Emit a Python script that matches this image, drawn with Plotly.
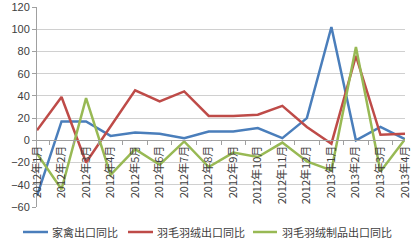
import plotly.graph_objects as go

categories = ["2012年1月", "2012年2月", "2012年3月", "2012年4月", "2012年5月", "2012年6月",
              "2012年7月", "2012年8月", "2012年9月", "2012年10月", "2012年11月", "2012年12月",
              "2013年1月", "2013年2月", "2013年3月", "2013年4月"]
poultry = [-50, 17, 17, 4, 7, 6, 2, 8, 8, 11, 2, 20, 102, 0, 12, 1]
feather_down = [9, 39, -20, 12, 45, 35, 44, 22, 22, 23, 31, 12, -3, 76, 5, 6]
feather_products = [-12, -44, 38, -31, -8, -22, -1, -24, -11, -15, -2, -19, -27, 84, -28, 1]
names = ["家禽出口同比", "羽毛羽绒出口同比", "羽毛羽绒制品出口同比"]
colors = ["#4A7EBB", "#BE4B48", "#98B954"]

W, H = 413, 245
L, R, T, B = 37, 8, 7, 38
pw, ph = W - L - R, H - T - B

fig = go.Figure()
for vals, nm, c in zip([poultry, feather_down, feather_products], names, colors):
    fig.add_trace(go.Scatter(x=categories, y=vals, mode="lines", name=nm,
                             line=dict(color=c, width=2.5), showlegend=False))

# manual legend (pixel layout -> paper coords)
leg_y_px = 232
line_x_px = [(23, 48), (128, 153), (253, 277)]
text_x_px = [50, 155, 280]
py = (H - B - leg_y_px) / ph
for (x0, x1), tx, nm, c in zip(line_x_px, text_x_px, names, colors):
    fig.add_shape(type="line", xref="paper", yref="paper",
                  x0=(x0 - L) / pw, x1=(x1 - L) / pw, y0=py, y1=py,
                  line=dict(color=c, width=2.5))
    fig.add_annotation(xref="paper", yref="paper", x=(tx - L) / pw, y=py,
                       xanchor="left", yanchor="middle", text=nm, showarrow=False,
                       font=dict(size=11, color="#404040"))

font = "Noto Sans CJK SC"
fig.update_layout(
    width=W, height=H,
    margin=dict(l=L, r=R, t=T, b=B, autoexpand=False),
    paper_bgcolor="white", plot_bgcolor="white",
    font=dict(family=font, size=11, color="#404040"),
    showlegend=False,
    xaxis=dict(type="category", anchor="free", position=1/3,
               tickangle=-90, showgrid=False, showline=True, linecolor="#A0A0A0", linewidth=1,
               ticks="outside", tickson="boundaries", ticklen=4, tickcolor="#A0A0A0",
               automargin=False, ticklabeloverflow="allow",
               tickfont=dict(size=11, color="#404040")),
    yaxis=dict(range=[-60, 120], tickvals=[-60, -40, -20, 0, 20, 40, 60, 80, 100, 120],
               showgrid=True, gridcolor="#D0D0D0", gridwidth=1,
               zeroline=False, showline=True, linecolor="#A0A0A0", linewidth=1,
               ticks="outside", ticklen=4, tickcolor="#A0A0A0",
               automargin=False, ticklabeloverflow="allow",
               tickfont=dict(family="Liberation Sans", size=11, color="#404040")),
)
fig.write_html("out.html")
